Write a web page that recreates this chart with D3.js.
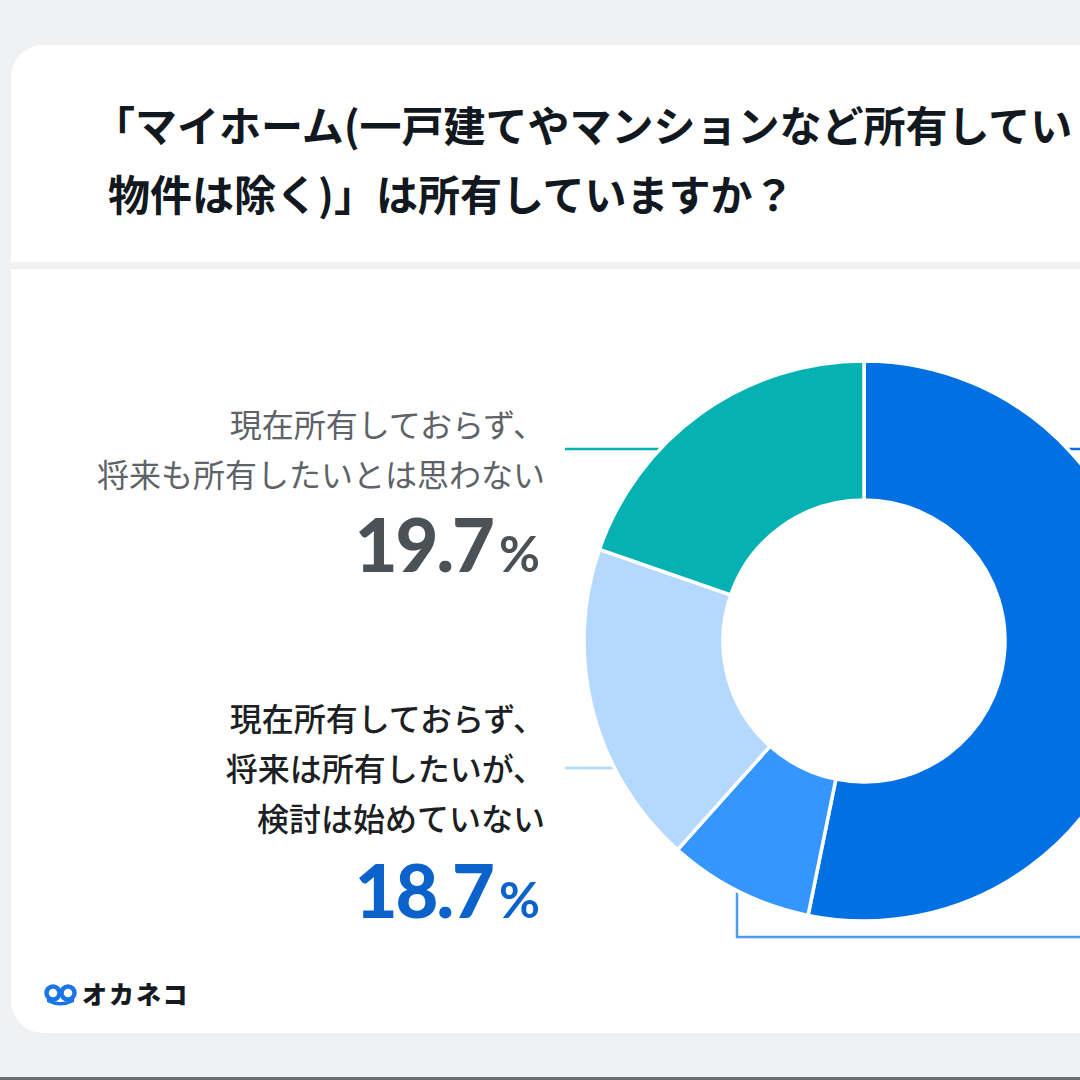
<!DOCTYPE html>
<html><head><meta charset="utf-8">
<script src="https://cdn.jsdelivr.net/npm/d3@7"></script>
<style>
html,body{margin:0;padding:0;background:#F0F1F3;}
svg{display:block;}
</style></head>
<body>
<svg id="chart" width="1080" height="1080"></svg>
<script>
// ---- data ----
const categories = [
  "現在所有している",
  "現在所有しておらず、将来は所有したく、検討を始めている",
  "現在所有しておらず、将来は所有したいが、検討は始めていない",
  "現在所有しておらず、将来も所有したいとは思わない"
];
const values = [53.2, 8.4, 18.7, 19.7];
const colors = ["#0070E3", "#3596FF", "#B5D8FF", "#05B1B3"];
const titleLines = [
  "「マイホーム(一戸建てやマンションなど所有してい",
  "物件は除く)」は所有していますか？"
];
const labelLinesA = ["現在所有しておらず、", "将来も所有したいとは思わない"];
const labelLinesB = ["現在所有しておらず、", "将来は所有したいが、", "検討は始めていない"];

const svg = d3.select("#chart");
const JP = "'Noto Sans CJK JP','Noto Sans',sans-serif";

// background & card
svg.append("rect").attr("width",1080).attr("height",1080).attr("fill","#F0F1F3");
svg.append("rect").attr("x",11).attr("y",45).attr("width",1200).attr("height",988)
  .attr("rx",32).attr("fill","#FFFFFF");
svg.append("rect").attr("x",11).attr("y",262).attr("width",1100).attr("height",7).attr("fill","#F0F1F3");
svg.append("rect").attr("x",0).attr("y",1077).attr("width",1080).attr("height",3).attr("fill","#6B6E73");

// title
const title = svg.append("text").attr("font-family",JP).attr("font-weight",700)
  .attr("font-size",42).attr("fill","#111820");
const titleX = [93, 108];
titleLines.forEach((t,i)=>title.append("tspan").attr("x",titleX[i]).attr("y",142+i*69).text(t));

// donut
const cx = 864, cy = 641, R = 280, r = 141;

// leader lines (drawn under donut)
const lines = svg.append("g");
lines.append("line").attr("x1",565).attr("x2",cx).attr("y1",449).attr("y2",449)
  .attr("stroke",colors[3]).attr("stroke-width",2.5);
lines.append("line").attr("x1",565).attr("x2",640).attr("y1",768).attr("y2",768)
  .attr("stroke",colors[2]).attr("stroke-width",2.5);
lines.append("line").attr("x1",cx).attr("x2",1090).attr("y1",449).attr("y2",449)
  .attr("stroke",colors[0]).attr("stroke-width",2.5);
lines.append("path").attr("d",`M737,${cy+200}V937H1090`).attr("fill","none")
  .attr("stroke","#4C9CF2").attr("stroke-width",2.5);

const g = svg.append("g").attr("transform",`translate(${cx},${cy})`);
const pie = d3.pie().sort(null).value(d=>d);
const arc = d3.arc().innerRadius(r).outerRadius(R);
g.selectAll("path.slice").data(pie(values)).enter().append("path")
  .attr("class","slice").attr("d",arc)
  .attr("fill",(d,i)=>colors[i]).attr("stroke","#FFFFFF").attr("stroke-width",3.5)
  .attr("stroke-linejoin","miter");

// labels
const la = svg.append("text").attr("font-family",JP).attr("font-size",32)
  .attr("font-weight",400).attr("fill","#5E6369").attr("text-anchor","end");
labelLinesA.forEach((t,i)=>la.append("tspan").attr("x",545).attr("y",437+i*50).text(t));

const lb = svg.append("text").attr("font-family",JP).attr("font-size",32)
  .attr("font-weight",500).attr("fill","#1C1F23").attr("text-anchor","end");
labelLinesB.forEach((t,i)=>lb.append("tspan").attr("x",545).attr("y",731+i*50).text(t));

function pct(v, y, color){
  const t = svg.append("text").attr("font-family","Lato, 'Noto Sans', sans-serif")
    .attr("font-weight",900).attr("fill",color).attr("text-anchor","end")
    .attr("x",540).attr("y",y);
  t.append("tspan").attr("font-size",74).attr("letter-spacing",-2).text(v.toFixed(1));
  t.append("tspan").attr("font-size",50).attr("font-weight",700).attr("dx",6).text("%");
}
pct(values[3], 572, "#4A5157");
pct(values[2], 918, "#0B62CB");

// logo
const logo = svg.append("g").attr("transform","translate(45,984)");
logo.append("circle").attr("cx",8).attr("cy",9).attr("r",6.5).attr("fill","none").attr("stroke","#1B74E8").attr("stroke-width",4.5);
logo.append("circle").attr("cx",23).attr("cy",9).attr("r",6.5).attr("fill","none").attr("stroke","#1B74E8").attr("stroke-width",4.5);
logo.append("path").attr("d","M2,14 Q15,22 29,14 L29,18 Q15,25 2,18 Z").attr("fill","#1B74E8");
svg.append("text").attr("x",82).attr("y",1004).attr("font-family",JP).attr("font-weight",900)
  .attr("font-size",25).attr("letter-spacing",2).attr("fill","#141A22").text("オカネコ");
</script>
</body></html>
